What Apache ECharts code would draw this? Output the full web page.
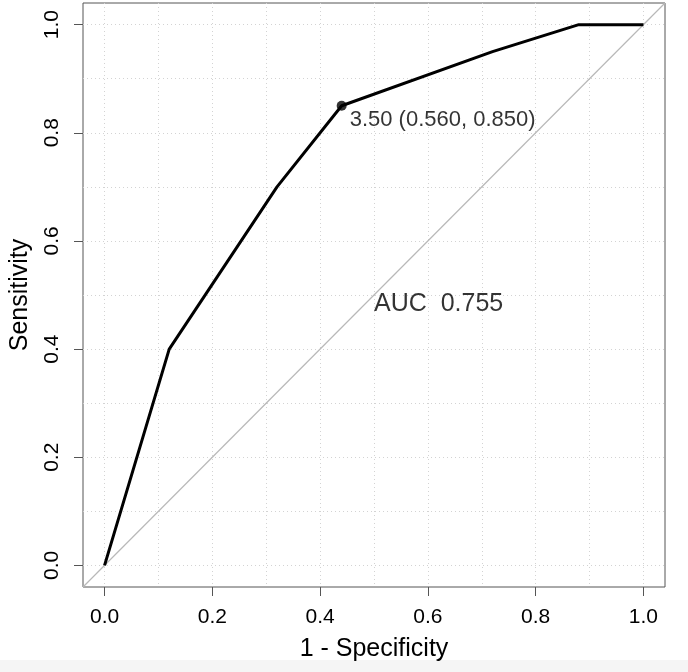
<!DOCTYPE html>
<html>
<head>
<meta charset="utf-8">
<title>ROC curve</title>
<script src="https://cdn.jsdelivr.net/npm/echarts@6/dist/echarts.min.js"></script>
<style>
  html, body { margin: 0; padding: 0; background: #fff; }
  #chart { width: 688px; height: 672px; }
</style>
</head>
<body>
<div id="chart"></div>
<script>
// ROC curve points (1 - specificity, sensitivity)
const fpr = [0, 0.12, 0.32, 0.44, 0.72, 0.88, 1.0];
const tpr = [0, 0.40, 0.70, 0.85, 0.95, 1.0, 1.0];

// best threshold
const thresLabel = '3.50';
const thresSpec = 0.560;
const thresSens = 0.850;

const aucValue = 0.755;
const aucPos = [0.5, 0.5];

const tickValues = [0, 0.2, 0.4, 0.6, 0.8, 1.0];
const gridValues = [0, 0.1, 0.2, 0.3, 0.4, 0.5, 0.6, 0.7, 0.8, 0.9, 1.0];
const axisRange = [-0.04, 1.04];

const FONT = '"Liberation Sans", Arial, Helvetica, sans-serif';
const BOX = '#555';

const chart = echarts.init(document.getElementById('chart'), null, { renderer: 'canvas' });

const curve = fpr.map((x, i) => [x, tpr[i]]);
const diagonal = axisRange.map((v) => [v, v]);

function mainAxis(isY) {
  return {
    type: 'value',
    min: axisRange[0],
    max: axisRange[1],
    name: isY ? 'Sensitivity' : '1 - Specificity',
    nameLocation: 'middle',
    nameGap: isY ? 50 : 50,
    nameRotate: isY ? 90 : 0,
    nameTextStyle: { fontFamily: FONT, fontSize: 25, color: '#000' },
    axisLine: { show: false, onZero: false },
    axisTick: {
      show: true,
      length: 9,
      customValues: tickValues,
      lineStyle: { color: BOX, width: 1 },
    },
    axisLabel: {
      customValues: tickValues,
      formatter: (v) => v.toFixed(1),
      fontFamily: FONT,
      fontSize: 21,
      color: '#000',
      margin: isY ? 20 : 20,
      rotate: isY ? 90 : 0,
    },
    splitLine: { show: false },
  };
}

function gridAxis() {
  return {
    type: 'value',
    min: axisRange[0],
    max: axisRange[1],
    axisLine: { show: false, onZero: false },
    axisTick: { show: false, customValues: gridValues },
    axisLabel: { show: false, customValues: gridValues },
    splitLine: {
      show: true,
      lineStyle: { color: '#d3d3d3', type: [1, 3], width: 1 },
    },
  };
}

const option = {
  backgroundColor: '#fff',
  animation: false,
  graphic: [
    {
      type: 'rect',
      left: 0,
      bottom: 0,
      shape: { width: 688, height: 12 },
      style: { fill: '#f5f5f5' },
      silent: true,
      z: -10,
    },
  ],
  grid: {
    left: 81,
    top: 3,
    width: 584,
    height: 584,
    show: true,
    borderColor: BOX,
    borderWidth: 1,
    backgroundColor: 'transparent',
  },
  xAxis: [mainAxis(false), gridAxis()],
  yAxis: [mainAxis(true), gridAxis()],
  series: [
    {
      type: 'line',
      data: diagonal,
      symbol: 'none',
      lineStyle: { color: '#b8b8b8', width: 1.2 },
      silent: true,
      z: 2,
    },
    {
      type: 'line',
      data: curve,
      symbol: 'none',
      lineStyle: { color: '#000', width: 3 },
      z: 3,
    },
    {
      type: 'scatter',
      data: [[1 - thresSpec, thresSens]],
      symbol: 'circle',
      symbolSize: 10,
      itemStyle: { color: '#000' },
      label: {
        show: true,
        position: 'right',
        distance: 3,
        offset: [0, 14],
        formatter: `${thresLabel} (${thresSpec.toFixed(3)}, ${thresSens.toFixed(3)})`,
        fontFamily: FONT,
        fontSize: 22,
        color: '#000',
      },
      z: 4,
    },
    {
      type: 'scatter',
      data: [aucPos],
      symbolSize: 0,
      itemStyle: { color: 'transparent' },
      label: {
        show: true,
        position: [0, -3],
        align: 'left',
        verticalAlign: 'top',
        formatter: `AUC  ${aucValue.toFixed(3)}`,
        fontFamily: FONT,
        fontSize: 25,
        color: '#000',
      },
      z: 4,
    },
  ],
};

option && chart.setOption(option);
</script>
</body>
</html>
